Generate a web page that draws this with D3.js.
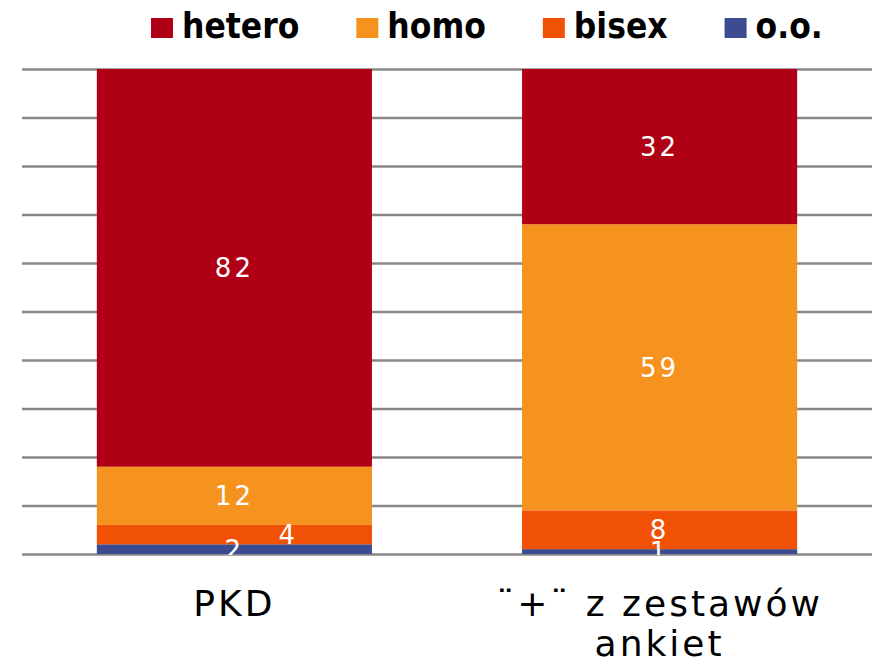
<!DOCTYPE html>
<html>
<head>
<meta charset="utf-8">
<script src="https://cdn.jsdelivr.net/npm/d3@7"></script>
<style>
  body { margin: 0; background: #fff; }
  svg { display: block; }
</style>
</head>
<body>
<div id="chart"></div>
<script>
// dane z obrazka
const categories = ['PKD', '¨+¨ z zestawów ankiet'];
const seriesNames = ['o.o.', 'bisex', 'homo', 'hetero'];
const ooValues = [2, 1];
const bisexValues = [4, 8];
const homoValues = [12, 59];
const heteroValues = [82, 32];
const legendOrder = ['hetero', 'homo', 'bisex', 'o.o.'];
const yTicks = [0, 10, 20, 30, 40, 50, 60, 70, 80, 90, 100];

const width = 874;
const height = 659;
const plotTop = 69, plotBottom = 554, plotLeft = 22, plotRight = 872;

const colors = {
  'hetero': '#af0015',
  'homo': '#f6931e',
  'bisex': '#f05105',
  'o.o.': '#3c4a90'
};

const rows = categories.map((c, i) => ({
  cat: c,
  'o.o.': ooValues[i],
  'bisex': bisexValues[i],
  'homo': homoValues[i],
  'hetero': heteroValues[i]
}));

const svg = d3.select('#chart')
  .append('svg')
  .attr('width', width)
  .attr('height', height);

const xScale = d3.scaleBand()
  .domain(categories)
  .range([plotLeft, plotRight])
  .paddingInner(0.353)
  .paddingOuter(0.176);

const yScale = d3.scaleLinear()
  .domain([0, 100])
  .range([plotBottom, plotTop]);

// linie siatki
const yAxis = d3.axisLeft(yScale)
  .tickValues(yTicks)
  .tickSize(-(plotRight - plotLeft))
  .tickFormat('');

svg.append('g')
  .attr('class', 'yaxis')
  .attr('transform', `translate(${plotLeft},0)`)
  .call(yAxis)
  .call(g => g.select('.domain').remove())
  .call(g => g.selectAll('.tick line')
    .attr('stroke', '#888')
    .attr('stroke-width', 2.5));

const stacked = d3.stack().keys(seriesNames)(rows);

svg.append('g').attr('class', 'bars')
  .selectAll('g')
  .data(stacked)
  .enter()
  .append('g')
  .attr('fill', s => colors[s.key])
  .selectAll('rect')
  .data(s => s)
  .enter()
  .append('rect')
  .attr('x', d => xScale(d.data.cat))
  .attr('width', xScale.bandwidth())
  .attr('y', d => yScale(d[1]))
  .attr('height', d => yScale(d[0]) - yScale(d[1]));

// etykiety wartosci
svg.append('clipPath').attr('id', 'plotclip')
  .append('rect')
  .attr('x', 0).attr('y', 0)
  .attr('width', width).attr('height', plotBottom + 1);

const labels = [];
stacked.forEach((s, si) => {
  s.forEach((d, ci) => {
    const v = d[1] - d[0];
    const prev = si > 0 ? stacked[si - 1][ci] : null;
    // male segmenty jeden nad drugim -> przesun w prawo
    const shift = prev && v < 5 && (prev[1] - prev[0]) < 5 ? 54 : 0;
    labels.push({
      v: v,
      x: xScale(d.data.cat) + xScale.bandwidth() / 2 + shift,
      y: yScale((d[0] + d[1]) / 2)
    });
  });
});

svg.append('g')
  .attr('clip-path', 'url(#plotclip)')
  .selectAll('text')
  .data(labels)
  .enter()
  .append('text')
  .attr('x', d => d.x)
  .attr('y', d => d.y)
  .attr('dy', '0.36em')
  .attr('text-anchor', 'middle')
  .attr('fill', '#fff')
  .style('font-family', 'DejaVu Sans, sans-serif')
  .style('font-size', '26px')
  .style('letter-spacing', '3px')
  .text(d => d.v);

// etykiety kategorii
const catLines = {
  'PKD': ['PKD'],
  '¨+¨ z zestawów ankiet': ['¨+¨ z zestawów', 'ankiet']
};

svg.append('g').attr('class', 'xlabels')
  .selectAll('text')
  .data(categories)
  .enter()
  .append('text')
  .attr('x', d => xScale(d) + xScale.bandwidth() / 2)
  .attr('y', 616)
  .attr('text-anchor', 'middle')
  .attr('fill', '#000')
  .style('font-family', 'DejaVu Sans, sans-serif')
  .style('font-size', '36px')
  .style('letter-spacing', '3px')
  .each(function (d) {
    const t = d3.select(this);
    catLines[d].forEach((line, i) => {
      t.append('tspan')
        .attr('x', xScale(d) + xScale.bandwidth() / 2)
        .attr('dy', i === 0 ? 0 : 40)
        .text(line);
    });
  });

// legenda
const legend = svg.append('g').attr('class', 'legend');
let lx = 151;
legendOrder.forEach(name => {
  const item = legend.append('g').attr('transform', `translate(${lx},0)`);
  item.append('rect')
    .attr('x', 0).attr('y', 18)
    .attr('width', 22).attr('height', 20)
    .attr('fill', colors[name]);
  const txt = item.append('text')
    .attr('transform', 'translate(31,38) scale(0.9,1)')
    .attr('fill', '#000')
    .style('font-family', 'DejaVu Sans, sans-serif')
    .style('font-weight', 'bold')
    .style('font-size', '35px')
    .text(name);
  lx += 31 + txt.node().getComputedTextLength() * 0.9 + 57;
});
</script>
</body>
</html>
